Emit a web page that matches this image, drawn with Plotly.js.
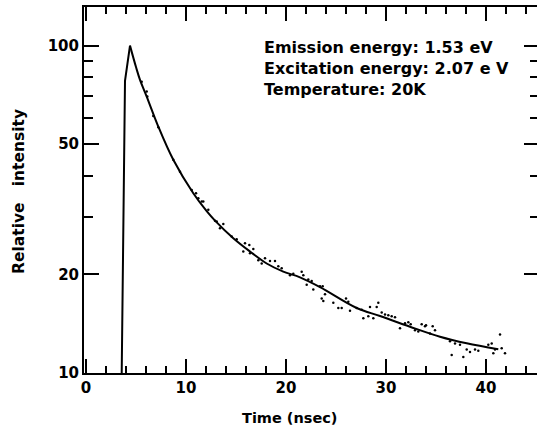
<!DOCTYPE html>
<html>
<head>
<meta charset="utf-8">
<script src="https://cdn.plot.ly/plotly-3.0.1.min.js"></script>
<style>
html,body{margin:0;padding:0;overflow:hidden;background:#fff;}
#chart{width:541px;height:431px;}
</style>
</head>
<body>
<div id="chart"></div>
<script>
// Excitation rise of the fitted curve (time in nsec, relative intensity)
const riseTime = [3.57, 3.73, 3.9, 4.4];
const riseIntensity = [10, 27.4, 78, 100];

// Fitted decay curve
const decayTime = [4.4, 5.0, 5.4, 6.07, 7.23, 8.73, 10.73, 12.07, 12.9, 14.73, 16.4, 18.07, 19.73, 21.4, 23.4, 27.07, 29.4, 32.4, 35.4, 38.07, 41.23];
const decayIntensity = [100, 86, 78.6, 69.9, 56.6, 44.8, 35.4, 31.2, 29.2, 25.8, 23.5, 21.6, 20.4, 19.6, 18.3, 15.8, 14.93, 13.85, 12.91, 12.32, 11.81];

// Measured points
const dataTime = [5.57, 6.07, 6.13, 6.73, 7.23, 8.73, 9.4, 10.57, 11.0, 11.23, 11.57, 11.73, 12.23, 12.9, 13.07, 13.4, 13.73, 14.57, 15.07, 15.73, 15.9, 16.33, 16.4, 16.73, 17.23, 17.57, 17.9, 18.4, 18.9, 19.23, 19.57, 20.4, 20.73, 21.57, 21.73, 22.07, 22.23, 22.57, 22.73, 23.4, 23.57, 23.67, 23.73, 23.9, 24.73, 25.23, 25.57, 26.0, 26.23, 26.4, 27.07, 27.57, 27.73, 28.23, 28.4, 28.73, 29.07, 29.23, 29.57, 29.9, 30.23, 30.57, 30.9, 31.4, 31.9, 32.23, 32.47, 32.9, 33.23, 33.57, 33.9, 34.0, 34.4, 34.67, 34.9, 36.4, 36.57, 36.9, 37.4, 37.73, 38.07, 38.4, 38.9, 39.23, 40.23, 40.57, 40.73, 40.9, 41.4, 41.57, 41.9];
const dataIntensity = [77.6, 72.4, 69.9, 61.0, 56.3, 44.8, 41.2, 36.2, 35.4, 34.2, 33.4, 33.4, 31.5, 29.2, 29.0, 27.7, 28.5, 26.1, 25.6, 23.5, 24.9, 24.6, 23.2, 23.9, 22.1, 21.6, 22.4, 22.0, 22.0, 21.2, 20.9, 19.9, 20.1, 20.4, 19.9, 18.6, 19.3, 19.1, 18.0, 18.4, 16.9, 18.4, 16.6, 17.4, 16.4, 15.8, 15.8, 16.9, 16.5, 15.5, 15.8, 15.6, 14.7, 14.9, 15.9, 14.7, 15.9, 16.4, 15.3, 15.1, 15.0, 14.9, 14.8, 13.7, 14.2, 14.3, 14.1, 13.5, 13.4, 14.1, 13.9, 14.0, 13.2, 13.9, 13.5, 12.5, 11.35, 12.3, 12.2, 11.2, 11.8, 11.6, 11.8, 11.7, 12.2, 12.3, 11.5, 11.8, 13.1, 11.9, 11.5];

const xMajorTicks = [0, 10, 20, 30, 40];
const xMinorTicks = [2, 4, 6, 8, 12, 14, 16, 18, 22, 24, 26, 28, 32, 34, 36, 38, 42, 44];
const yMajorTicks = [10, 20, 50, 100];
const yMinorTicks = [30, 40, 60, 70, 80, 90];

const infoLines = ["Emission energy: 1.53 eV", "Excitation energy: 2.07 e V", "Temperature: 20K"];

const FONT = "DejaVu Sans";

const traces = [
  {
    x: dataTime, y: dataIntensity, type: "scatter", mode: "markers",
    marker: {color: "#000", size: 2.5}, hoverinfo: "skip", showlegend: false
  },
  {
    x: riseTime, y: riseIntensity, type: "scatter", mode: "lines",
    line: {color: "#000", width: 2}, hoverinfo: "skip", showlegend: false
  },
  {
    x: decayTime, y: decayIntensity, type: "scatter", mode: "lines",
    line: {color: "#000", width: 2, shape: "spline", smoothing: 1}, hoverinfo: "skip", showlegend: false
  }
];

const tickFont = {family: FONT, size: 15, color: "#000", weight: "bold"};

const layout = {
  width: 541, height: 431,
  margin: {l: 84, r: 2, t: 7, b: 58},
  paper_bgcolor: "#fff", plot_bgcolor: "#fff",
  showlegend: false,
  font: {family: FONT, color: "#000"},
  xaxis: {
    range: [-0.2, 45.3], showgrid: false, zeroline: false,
    showline: true, linecolor: "#000", linewidth: 2, mirror: "allticks",
    ticks: "inside", ticklen: 14, tickwidth: 2, tickcolor: "#000",
    tickmode: "array", tickvals: xMajorTicks, ticktext: xMajorTicks.map(String),
    tickfont: tickFont,
    minor: {tickmode: "array", tickvals: xMinorTicks, ticks: "inside", ticklen: 7, tickwidth: 2, tickcolor: "#000", showgrid: false}
  },
  yaxis: {
    type: "log", range: [1, 2.118], showgrid: false, zeroline: false,
    showline: true, linecolor: "#000", linewidth: 2, mirror: "allticks",
    ticks: "inside", ticklen: 15, tickwidth: 2, tickcolor: "#000",
    tickmode: "array", tickvals: yMajorTicks, ticktext: yMajorTicks.map(String),
    tickfont: tickFont,
    minor: {tickmode: "array", tickvals: yMinorTicks, ticks: "inside", ticklen: 9, tickwidth: 2, tickcolor: "#000", showgrid: false}
  },
  annotations: [
    {
      xref: "paper", yref: "paper", x: 0.391, y: 0.833, xanchor: "left", yanchor: "middle",
      align: "left", showarrow: false,
      text: infoLines.join("<br>"),
      font: {family: FONT, size: 16, color: "#000", weight: "bold"}
    },
    {
      xref: "paper", yref: "paper", x: (290 - 84) / 455, y: (373 - 418) / 366, xanchor: "center", yanchor: "middle",
      showarrow: false, text: "Time (nsec)",
      font: {family: FONT, size: 14.5, color: "#000", weight: "bold"}
    },
    {
      xref: "paper", yref: "paper", x: (19 - 84) / 455, y: (373 - 192) / 366, xanchor: "center", yanchor: "middle",
      showarrow: false, textangle: -90, text: "Relative\u00a0\u00a0 intensity",
      font: {family: FONT, size: 15.5, color: "#000", weight: "bold"}
    }
  ]
};

Plotly.newPlot("chart", traces, layout, {staticPlot: true, displayModeBar: false});
</script>
</body>
</html>
